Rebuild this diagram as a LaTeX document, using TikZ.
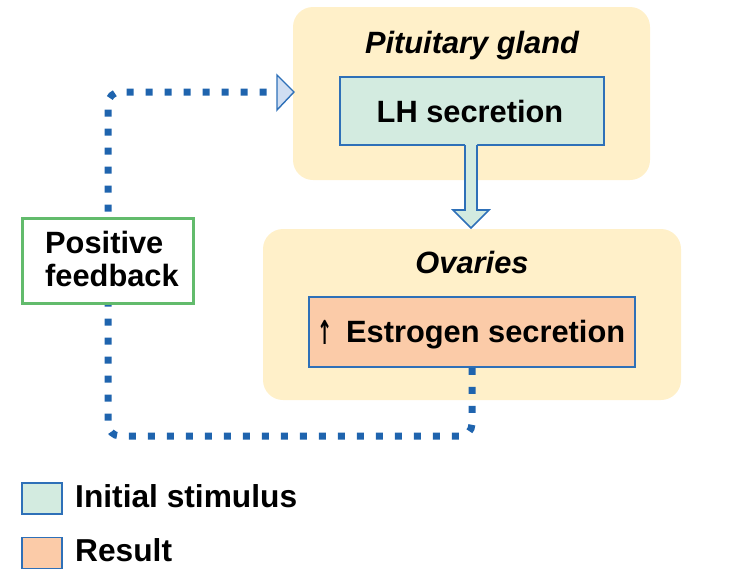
\documentclass[tikz,border=0pt]{standalone}
\usepackage{graphicx}
\usepackage{fontspec}
\setmainfont{Liberation Sans}
\newfontfamily\arrowfont{DejaVu Sans}
\definecolor{panel}{HTML}{FFF0C9}
\definecolor{mint}{HTML}{D3EBE0}
\definecolor{peach}{HTML}{FBCBA8}
\definecolor{edgeblue}{HTML}{2E70B8}
\definecolor{dotblue}{HTML}{1F64AE}
\definecolor{fbgreen}{HTML}{62BB6C}
\definecolor{tipfill}{HTML}{D0DEF2}
\tikzset{
  panelbox/.style={fill=panel, draw=none, rounded corners=20pt, inner sep=0pt},
  stepbox/.style={draw=edgeblue, line width=1.6pt, inner sep=0pt},
  fbbox/.style={draw=fbgreen, fill=white, line width=3pt, inner sep=0pt},
  lbl/.style={font=\bfseries\fontsize{30.8}{33}\selectfont, inner sep=0pt},
  ilbl/.style={font=\bfseries\itshape\fontsize{30.8}{33}\selectfont, inner sep=0pt},
  leglbl/.style={font=\bfseries\fontsize{31.7}{34}\selectfont, inner sep=0pt},
  dotline/.style={draw=dotblue, line width=7pt, dash pattern=on 7pt off 12pt, rounded corners=12pt},
}
\begin{document}
\begin{tikzpicture}[x=1pt, y=-1pt]
\useasboundingbox (0,0) rectangle (738,581);
% panels
\node[panelbox, minimum width=357pt, minimum height=173pt] (pit) at (471.5,93.5) {};
\node[panelbox, minimum width=418pt, minimum height=171pt] (ova) at (472,314.5) {};
% dotted feedback loop
\coordinate (tipbase) at (277,92);
\coordinate (c1) at (472,436);
\coordinate (c2) at (108,436);
\coordinate (c3) at (108,92);
\node[stepbox, fill=peach, minimum width=326pt, minimum height=70pt] (est) at (472,332) {};
\draw[dotline] (est.south) -- (c1) -- (c2) -- (c3) -- (tipbase);
\draw[draw=edgeblue, fill=tipfill, line width=1.4pt, line join=miter] (277,75) -- (294,92) -- (277,110) -- cycle;
% LH box
\node[stepbox, fill=mint, minimum width=264pt, minimum height=68pt] (lh) at (472,111) {};
% hollow arrow
\fill[mint] (465,143) -- (465,210) -- (453,210) -- (471,228) -- (489,210) -- (477,210) -- (477,143) -- cycle;
\draw[edgeblue, line width=1.6pt, line join=miter] (465,145) -- (465,210) -- (453,210) -- (471,228) -- (489,210) -- (477,210) -- (477,145);
% positive feedback box
\node[fbbox, minimum width=171pt, minimum height=85pt] (fb) at (107.5,260.5) {};
% texts
\node[ilbl, anchor=base] (pittxt) at (472,53) {Pituitary gland};
\node[lbl, anchor=base] (lhtxt) at (470,122) {LH secretion};
\node[ilbl, anchor=base] (ovatxt) at (472,273) {Ovaries};
\node[inner sep=0pt, anchor=base, font=\arrowfont\bfseries\fontsize{33}{35}\selectfont] (uparrow) at (325,344) {\scalebox{0.55}[1]{\symbol{"2191}}};
\node[lbl, anchor=base west] (esttxt) at (346,342) {Estrogen secretion};
\node[lbl, anchor=base west] (fbtxt1) at (45,253) {Positive};
\node[lbl, anchor=base west] (fbtxt2) at (45,286) {feedback};
% legend
\node[stepbox, fill=mint, minimum width=40pt, minimum height=31pt] (leg1) at (42,498.5) {};
\node[stepbox, fill=peach, minimum width=40pt, minimum height=31pt] (leg2) at (42,553) {};
\node[leglbl, anchor=base west] (leg1txt) at (75,507.5) {Initial stimulus};
\node[leglbl, anchor=base west] (leg2txt) at (75,561) {Result};
\end{tikzpicture}
\end{document}
